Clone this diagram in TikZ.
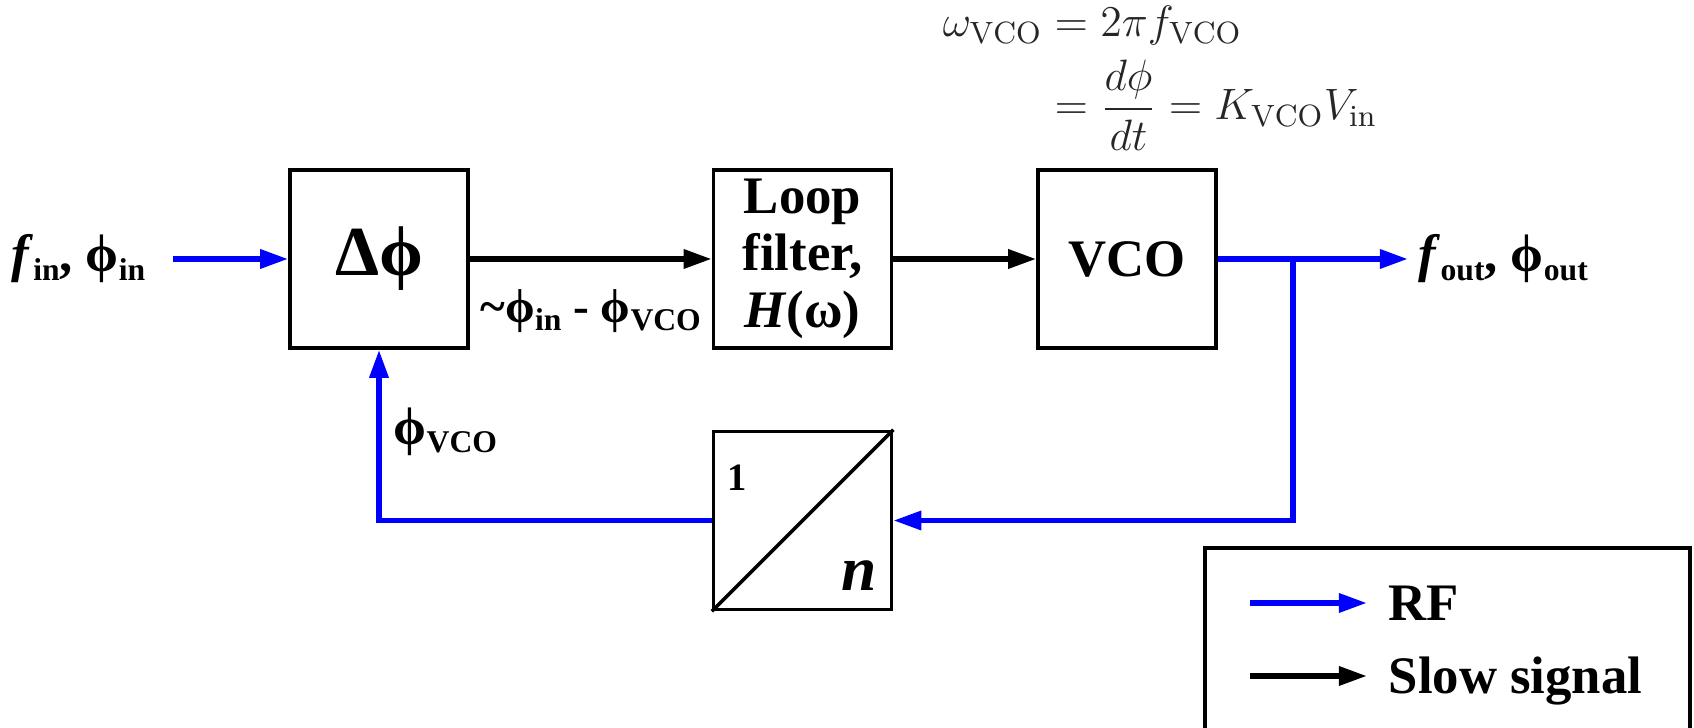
\RequirePackage{fix-cm}
\documentclass[tikz,border=0pt]{standalone}
\usepackage{amsmath}
\usepackage{fontspec}
\newfontfamily\lblfont{Liberation Serif}
\usepackage{tikz}
\usetikzlibrary{arrows.meta,calc,positioning}
\definecolor{rfblue}{HTML}{0000FF}
\definecolor{eqgray}{HTML}{262626}
\newcommand{\low}[1]{\raisebox{-0.35ex}{\fontsize{9}{9}\selectfont #1}}
\tikzset{
  blockbox/.style={draw,line width=1pt,minimum width=1.78cm,minimum height=1.78cm,inner sep=0pt,align=center,font=\lblfont\bfseries\fontsize{15}{16.2}\selectfont},
  sig/.style={inner sep=0pt,font=\lblfont\bfseries\fontsize{15}{18}\selectfont},
  rfline/.style={draw=rfblue,line width=1.6pt},
  rfarrow/.style={rfline,-{Triangle[length=8pt,width=5.2pt]}},
  slowarrow/.style={draw=black,line width=1.6pt,-{Triangle[length=8pt,width=5.2pt]}}
}

\begin{document}
\begin{tikzpicture}[x=1cm,y=1cm]
  \useasboundingbox (0,0) rectangle (16.94,7.28);
  % blocks
  \node[blockbox] (pd) at (3.79,4.69) {\fontsize{20}{24}\selectfont Δϕ};
  \node[blockbox,right=2.42cm of pd] (lf) {Loop\\filter,\\\textit{H}(ω)};
  \node[blockbox,right=1.43cm of lf] (vco) {VCO};
  \node[blockbox,below=0.8cm of lf] (div) {};
  \draw[line width=1pt] (div.south west) -- (div.north east);
  \node[sig,font=\lblfont\bfseries\fontsize{11}{13}\selectfont] (one) at ($(div.center)+(-0.65,0.43)$) {1};
  \node[sig,font=\lblfont\bfseries\fontsize{18}{20}\selectfont] (nn) at ($(div.center)+(0.57,-0.55)$) {\textit{n}};
  % VCO relation
  \node[text=eqgray,inner sep=0pt,font=\fontsize{12.5}{15}\selectfont] (vcoeq) at (11.6,6.53)
    {$\begin{aligned}\omega_{\mathrm{VCO}} &= 2\pi f_{\mathrm{VCO}}\\[-2pt] &= \frac{d\phi}{dt} = K_{\mathrm{VCO}}V_{\mathrm{in}}\end{aligned}$};
  % signals
  \coordinate (in) at (1.73,4.69);
  \coordinate (out) at (14.08,4.69);
  \coordinate (br) at (12.93,4.69);
  \node[sig,left=0.27cm of in] (fin) {\textit{f}\low{in}, ϕ\low{in}};
  \node[sig,right=0.1cm of out] (fout) {\textit{f}\low{out}, ϕ\low{out}};
  \draw[rfarrow] (in) -- (pd);
  \draw[slowarrow] (pd) -- node[sig,below=0.28cm,font=\lblfont\bfseries\fontsize{13.5}{16}\selectfont] (err) {\textasciitilde ϕ\low{in} - ϕ\low{VCO}} (lf);
  \draw[slowarrow] (lf) -- (vco);
  \draw[rfarrow] (vco) -- (out);
  \draw[rfarrow] (br) |- (div);
  \draw[rfarrow] (div) -| node[sig,pos=0.76,right=0.12cm] (fb) {ϕ\low{VCO}} (pd);
  % legend
  \draw[line width=1pt] (12.05,-0.3) rectangle (16.90,1.80);
  \coordinate (rfa) at (12.50,1.25);
  \coordinate (rfb) at (13.67,1.25);
  \coordinate (sla) at (12.50,0.52);
  \coordinate (slb) at (13.67,0.52);
  \draw[rfarrow] (rfa) -- (rfb);
  \draw[slowarrow] (sla) -- (slb);
  \node[sig,anchor=base west] (rftxt) at ([xshift=0.21cm,yshift=-0.175cm]rfb) {RF};
  \node[sig,anchor=base west] (sltxt) at ([xshift=0.21cm,yshift=-0.175cm]slb) {Slow signal};
\end{tikzpicture}
\end{document}
